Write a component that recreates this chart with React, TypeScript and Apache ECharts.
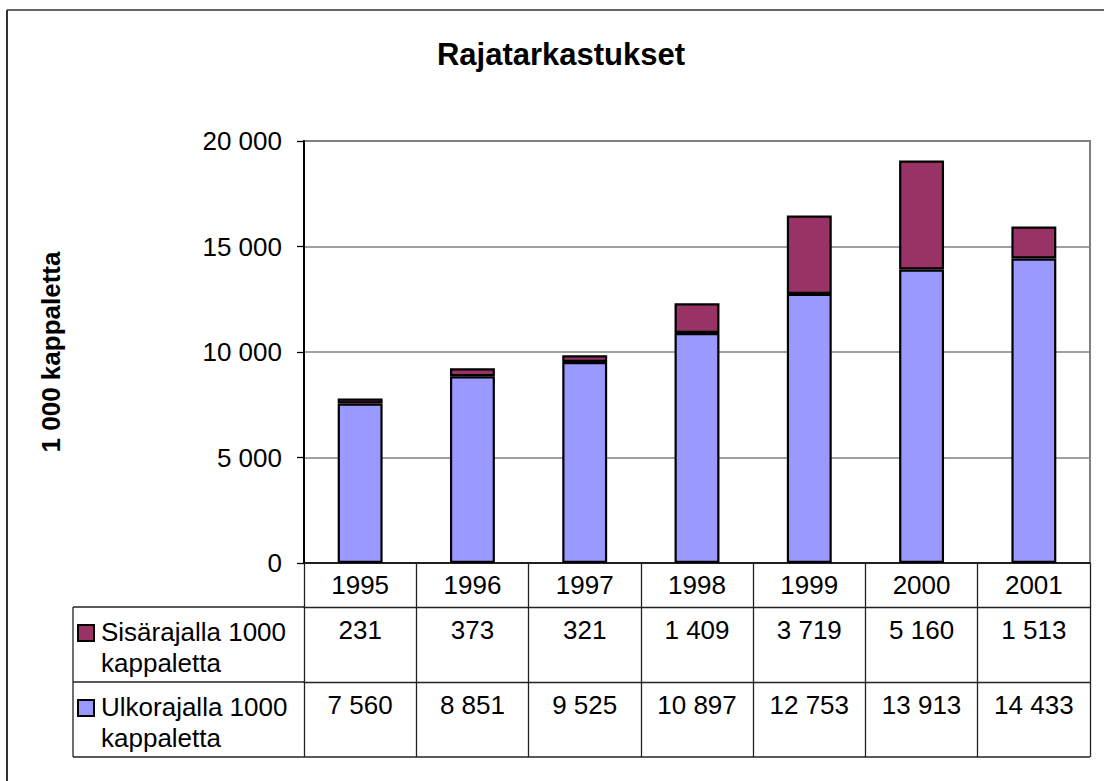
import React, { useEffect, useRef } from "react";
import * as echarts from "echarts";

const years = ["1995", "1996", "1997", "1998", "1999", "2000", "2001"];
const sisarajalla = [231, 373, 321, 1409, 3719, 5160, 1513];
const ulkorajalla = [7560, 8851, 9525, 10897, 12753, 13913, 14433];
const seriesNames = ["Sisärajalla 1000 kappaletta", "Ulkorajalla 1000 kappaletta"];
const seriesColors = ["#993366", "#9999FF"];
const titleText = "Rajatarkastukset";
const yAxisName = "1 000 kappaletta";

const fmt = (v: number) => String(v).replace(/\B(?=(\d{3})+(?!\d))/g, " ");

const FONT = "'Liberation Sans', Arial, sans-serif";
const FS = 26;
const W = 1104;
const H = 781;
const G_LEFT = 304;
const G_RIGHT = 1090;
const G_TOP = 141;
const G_BOTTOM = 563;
const ROW0 = 44;
const ROW = 75;
const TABLE_LEFT = 73;

export default function App() {
  const ref = useRef<HTMLDivElement>(null);
  useEffect(() => {
    document.body.style.margin = "0";
    if (!ref.current) return;
    const chart = echarts.init(ref.current, null, { renderer: "svg" });
    const r1 = G_BOTTOM + ROW0;
    const r2 = r1 + ROW;
    const r3 = r2 + ROW;
    const lineStyle = { stroke: "#222", lineWidth: 1.3 };
    const rows = [r1, r2];
    const legendGraphics: any[] = [];
    seriesNames.forEach((name, i) => {
      const top = rows[i];
      legendGraphics.push({
        type: "rect",
        shape: { x: 78, y: top + 18, width: 16, height: 16 },
        style: { fill: seriesColors[i], stroke: "#000", lineWidth: 2 },
      });
      legendGraphics.push({
        type: "text",
        x: 101,
        y: top + 9,
        style: {
          text: name.replace(/ (\S+)$/, "\n$1"),
          font: `${FS}px ${FONT}`,
          fill: "#000",
          lineHeight: 31,
          textVerticalAlign: "top",
        },
      });
    });
    const option: any = {
      animation: false,
      backgroundColor: "#fff",
      grid: {
        left: G_LEFT,
        right: W - G_RIGHT,
        top: G_TOP,
        bottom: H - G_BOTTOM,
        show: true,
        borderColor: "#808080",
        borderWidth: 2,
        containLabel: false,
      },
      xAxis: [
        {
          type: "category",
          data: years,
          position: "bottom",
          axisLine: { show: true, lineStyle: { color: "#000", width: 1.5 } },
          axisTick: { show: true, length: ROW0, interval: 0, lineStyle: { color: "#222", width: 1.3 } },
          axisLabel: { interval: 0, margin: 9, fontSize: FS, fontFamily: FONT, color: "#000" },
        },
        {
          type: "category",
          data: sisarajalla.map(fmt),
          position: "bottom",
          offset: ROW0,
          axisLine: { show: true, lineStyle: { color: "#222", width: 1.3 } },
          axisTick: { show: true, length: ROW, interval: 0, lineStyle: { color: "#222", width: 1.3 } },
          axisLabel: { interval: 0, margin: 10, fontSize: FS, fontFamily: FONT, color: "#000" },
        },
        {
          type: "category",
          data: ulkorajalla.map(fmt),
          position: "bottom",
          offset: ROW0 + ROW,
          axisLine: { show: true, lineStyle: { color: "#222", width: 1.3 } },
          axisTick: { show: true, length: ROW, interval: 0, lineStyle: { color: "#222", width: 1.3 } },
          axisLabel: { interval: 0, margin: 10, fontSize: FS, fontFamily: FONT, color: "#000" },
        },
      ],
      yAxis: {
        type: "value",
        min: 0,
        max: 20000,
        interval: 5000,
        name: yAxisName,
        nameLocation: "middle",
        nameRotate: 90,
        nameGap: 240,
        nameTextStyle: { fontSize: FS, fontWeight: "bold", fontFamily: FONT, color: "#000" },
        axisLine: { show: true, lineStyle: { color: "#000", width: 2 } },
        axisTick: { show: true, length: 7, lineStyle: { color: "#000", width: 1.3 } },
        axisLabel: { margin: 22, fontSize: FS, fontFamily: FONT, color: "#000", formatter: (v: number) => fmt(v) },
        splitLine: { show: true, lineStyle: { color: "#808080", width: 1.5 } },
      },
      series: [
        {
          name: seriesNames[1],
          type: "bar",
          stack: "total",
          xAxisIndex: 0,
          barWidth: "40%",
          data: ulkorajalla,
          itemStyle: { color: seriesColors[1], borderColor: "#000", borderWidth: 2.2 },
        },
        {
          name: seriesNames[0],
          type: "bar",
          stack: "total",
          xAxisIndex: 0,
          barWidth: "40%",
          data: sisarajalla,
          itemStyle: { color: seriesColors[0], borderColor: "#000", borderWidth: 2.2 },
        },
      ],
      graphic: [
        {
          type: "text",
          x: 561,
          y: 54,
          style: {
            text: titleText,
            font: `bold 31px ${FONT}`,
            fill: "#000",
            textAlign: "center",
            textVerticalAlign: "middle",
          },
        },
        { type: "line", shape: { x1: 7, y1: 10, x2: W, y2: 10 }, style: { stroke: "#333", lineWidth: 1.5 } },
        { type: "line", shape: { x1: 7, y1: 10, x2: 7, y2: H }, style: { stroke: "#333", lineWidth: 2 } },
        { type: "line", shape: { x1: TABLE_LEFT, y1: r1, x2: G_LEFT, y2: r1 }, style: lineStyle },
        { type: "line", shape: { x1: TABLE_LEFT, y1: r2, x2: G_LEFT, y2: r2 }, style: lineStyle },
        { type: "line", shape: { x1: TABLE_LEFT, y1: r3, x2: G_RIGHT, y2: r3 }, style: lineStyle },
        { type: "line", shape: { x1: TABLE_LEFT, y1: r1, x2: TABLE_LEFT, y2: r3 }, style: lineStyle },
        ...legendGraphics,
      ],
    };
    chart.setOption(option);
    return () => chart.dispose();
  }, []);
  return <div ref={ref} style={{ width: W, height: H }} />;
}
